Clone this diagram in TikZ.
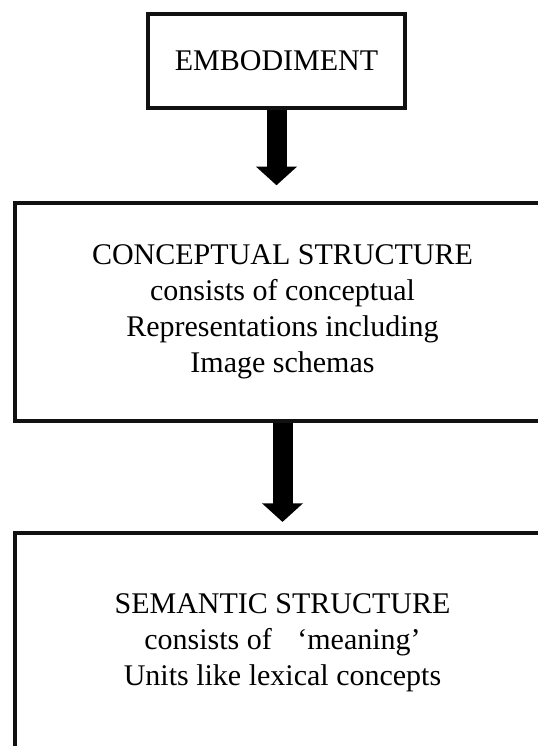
\documentclass[tikz,border=0pt]{standalone}
\usepackage{fontspec}
\setmainfont{Liberation Serif}
\usetikzlibrary{arrows.meta,positioning}
\definecolor{edgeC}{HTML}{111111}

\tikzset{
  stagebox/.style={draw=edgeC,line width=2.6pt,fill=white,inner sep=0pt,align=center,
    font=\fontsize{22.5}{27}\selectfont},
  flowarrow/.style={line width=15pt,-{Triangle[width=30pt,length=14pt]}}
}

\begin{document}
\begin{tikzpicture}[x=0.75pt,y=-0.75pt]
  \clip (0,0) rectangle (538,746);
  \fill[white] (0,0) rectangle (538,746);

  % top box
  \node[stagebox,minimum width=192.75pt,minimum height=70.5pt] (embod) at (276.5,61)
    {EMBODIMENT};
  % middle box (runs past the right edge)
  \node[stagebox,minimum width=401.25pt,minimum height=163.5pt] (concept) at (282.5,312)
    {CONCEPTUAL STRUCTURE\\ consists of conceptual\\ Representations including\\ Image schemas};
  % bottom box (runs past the right and lower edge)
  \node[stagebox,minimum width=401.25pt,minimum height=165pt] (semant) at (282.5,643)
    {SEMANTIC STRUCTURE\\ consists of\hspace{0.85em}`meaning'\hspace*{14pt}\\ Units like lexical concepts};

  % arrows
  \draw[flowarrow,shorten >=12pt] (embod.south) -- (embod.south |- concept.north);
  \draw[flowarrow,shorten >=7pt] (concept.south) -- (semant.north);
\end{tikzpicture}
\end{document}
